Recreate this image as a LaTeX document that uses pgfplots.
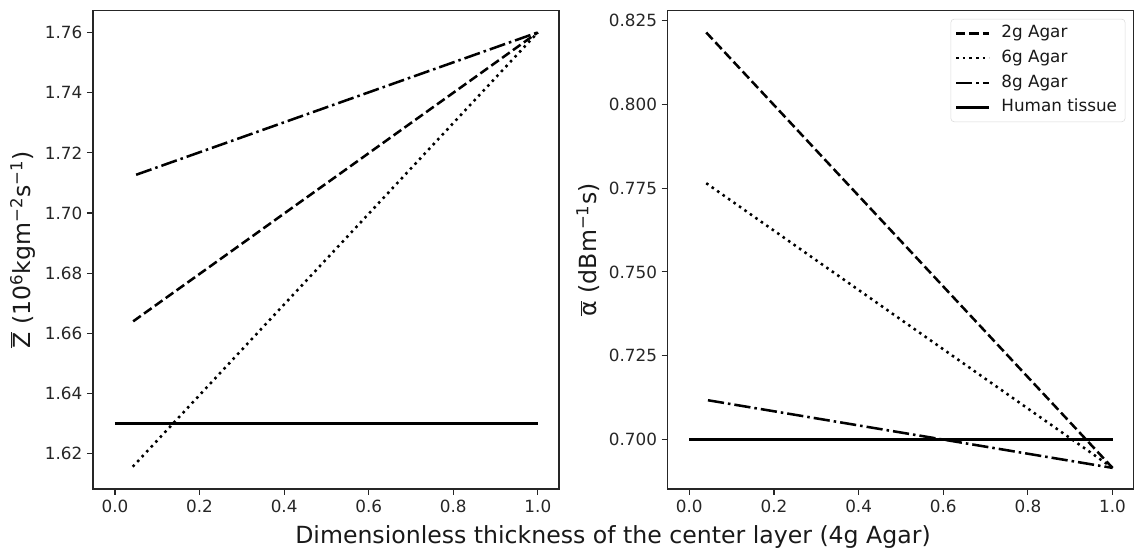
\documentclass[border=0pt]{standalone}
\usepackage{pgfplots}
\pgfplotsset{compat=1.18}
\usepackage{fontspec}
\setmainfont{DejaVu Sans}

\pgfplotsset{
  myaxis/.style={
    scale only axis, width=349.5pt, height=358.7pt,
    axis line style={black!85, line width=0.8pt},
    tick align=outside, tick pos=left,
    major tick length=4.5pt,
    every tick/.style={black!85, line width=0.8pt},
    tick label style={font=\fontsize{12.6}{15}\selectfont, text=black!85},
    label style={font=\fontsize{17.7}{20}\selectfont, text=black!90},
    /pgf/number format/assume math mode=true,
    xtick={0,0.2,0.4,0.6,0.8,1},
    xticklabel style={/pgf/number format/.cd, fixed, fixed zerofill, precision=1},
    legend image code/.code={\draw[#1] (0pt,0pt) -- (25pt,0pt);},
  },
  s2/.style={black, line width=1.9pt, dash pattern=on 7pt off 3pt},
  s6/.style={black, line width=1.9pt, dash pattern=on 1.9pt off 3.1pt},
  s8/.style={black, line width=1.9pt, dash pattern=on 12.2pt off 3pt on 1.9pt off 3pt},
  sh/.style={black, line width=1.9pt, solid},
}

\begin{document}
\begin{tikzpicture}
\begin{axis}[myaxis,
  at={(69.75pt,47.25pt)}, anchor=south west,
  xmin=-0.052, xmax=1.05, ymin=1.6083, ymax=1.7672,
  ytick={1.62,1.64,1.66,1.68,1.70,1.72,1.74,1.76},
  yticklabel style={/pgf/number format/.cd, fixed, fixed zerofill, precision=2},
  ylabel={$\overline{\mbox{Z}}$ (10\textsuperscript{6}kgm\textsuperscript{−2}s\textsuperscript{−1})},
]
\addplot[s2] coordinates {(0.043,1.6640) (1.0,1.7600)};
\addplot[s6] coordinates {(0.042,1.6157) (1.0,1.7600)};
\addplot[s8] coordinates {(0.050,1.7127) (1.0,1.7600)};
\addplot[sh] coordinates {(0.0,1.6300) (1.0,1.6300)};
\end{axis}

\begin{axis}[myaxis,
  at={(500.8pt,47.25pt)}, anchor=south west,
  xmin=-0.051, xmax=1.05, ymin=0.6852, ymax=0.8280,
  ytick={0.700,0.725,0.750,0.775,0.800,0.825},
  yticklabel style={/pgf/number format/.cd, fixed, fixed zerofill, precision=3},
  ylabel={$\overline{\mbox{α}}$ (dBm\textsuperscript{−1}s)},
  legend cell align=left,
  legend style={at={(0.982,0.983)}, anchor=north east,
    font=\fontsize{12.6}{15}\selectfont, text=black!90,
    draw=black!15, rounded corners=2.5pt, fill=white,
    inner xsep=3pt, inner ysep=1.5pt, row sep=0pt,
    nodes={inner sep=3pt, text height=9.5pt, text depth=3pt},
    /tikz/every odd column/.append style={column sep=5pt}},
]
\addplot[s2] coordinates {(0.040,0.8215) (1.0,0.6915)};
\addlegendentry{2g Agar}
\addplot[s6] coordinates {(0.040,0.7765) (1.0,0.6915)};
\addlegendentry{6g Agar}
\addplot[s8] coordinates {(0.044,0.7117) (1.0,0.6915)};
\addlegendentry{8g Agar}
\addplot[sh] coordinates {(0.0,0.7000) (1.0,0.7000)};
\addlegendentry{Human tissue}
\end{axis}

\node[anchor=base, font=\fontsize{17.7}{20}\selectfont, text=black!90] at (459.75pt,6pt) {Dimensionless thickness of the center layer (4g Agar)};

\pgfresetboundingbox
\useasboundingbox (0,0) rectangle (852pt,414pt);
\end{tikzpicture}
\end{document}
